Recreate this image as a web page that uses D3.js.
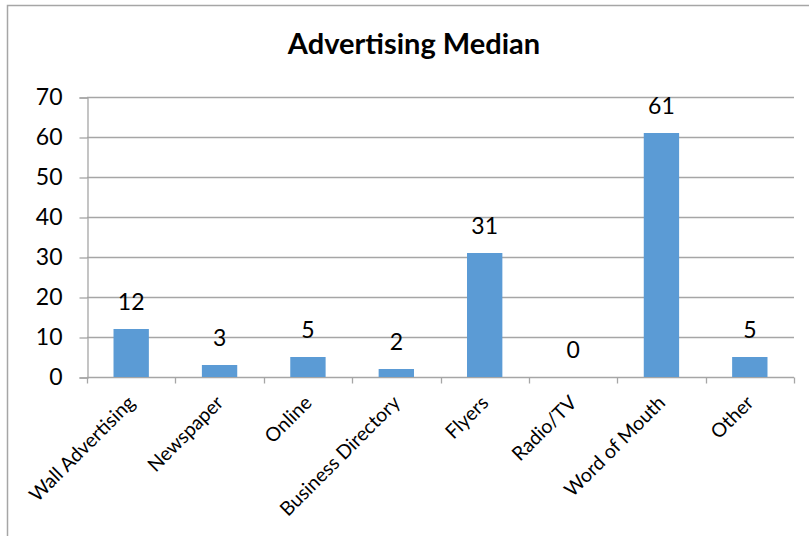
<!DOCTYPE html>
<html>
<head>
<meta charset="utf-8">
<script src="https://cdn.jsdelivr.net/npm/d3@7"></script>
<style>
  body { margin: 0; background: #fff; }
  text { font-family: Lato, "Open Sans", sans-serif; fill: #000; }
</style>
</head>
<body>
<script>
var categories = ['Wall Advertising', 'Newspaper', 'Online', 'Business Directory', 'Flyers', 'Radio/TV', 'Word of Mouth', 'Other'];
var medians = [12, 3, 5, 2, 31, 0, 61, 5];
var yTicks = [0, 10, 20, 30, 40, 50, 60, 70];

var width = 809, height = 536;
var margin = { left: 87, right: 15, top: 97, bottom: 159 };

var svg = d3.select('body').append('svg').attr('width', width).attr('height', height);

// chart frame (runs off the right and bottom edges)
svg.append('rect')
    .attr('x', 7.5).attr('y', 5.5)
    .attr('width', 820).attr('height', 560)
    .attr('fill', 'none').attr('stroke', '#a6a6a6').attr('stroke-width', 1.5);

var x = d3.scaleBand().domain(categories).range([margin.left, width - margin.right]).paddingInner(0.6).paddingOuter(0.3);
var xOuter = d3.scaleBand().domain(categories).range([margin.left, width - margin.right]);
var y = d3.scaleLinear().domain([0, 70]).range([height - margin.bottom, margin.top]);

svg.append('text')
    .attr('x', 414).attr('y', 54)
    .attr('text-anchor', 'middle')
    .style('font-size', '29px').style('font-weight', 'bold')
    .text('Advertising Median');

// gridlines
svg.append('g').selectAll('line').data(yTicks.slice(1)).enter().append('line')
    .attr('x1', margin.left).attr('x2', width - margin.right)
    .attr('y1', function(d) { return Math.round(y(d)) + 0.5; })
    .attr('y2', function(d) { return Math.round(y(d)) + 0.5; })
    .attr('stroke', '#a6a6a6').attr('stroke-width', 1.3);

// y axis
var yAxis = d3.axisLeft(y).tickValues(yTicks).tickSize(8).tickPadding(17);
var gy = svg.append('g').attr('transform', 'translate(' + (margin.left + 0.5) + ',0.5)').call(yAxis);
gy.selectAll('line, path').attr('stroke', '#a6a6a6').attr('stroke-width', 1.3);
gy.selectAll('text').style('font-size', '23px').style('font-family', 'Lato, sans-serif').attr('fill', '#000');

// x axis with ticks at band boundaries
var y0 = Math.round(y(0)) + 0.5;
svg.append('line').attr('x1', margin.left).attr('x2', width - margin.right)
    .attr('y1', y0).attr('y2', y0).attr('stroke', '#a6a6a6').attr('stroke-width', 1.3);
var bounds = categories.map(function(c) { return xOuter(c); }).concat([width - margin.right]);
svg.append('g').selectAll('line').data(bounds).enter().append('line')
    .attr('x1', function(d) { return Math.round(d) + 0.5; })
    .attr('x2', function(d) { return Math.round(d) + 0.5; })
    .attr('y1', y0).attr('y2', y0 + 6)
    .attr('stroke', '#a6a6a6').attr('stroke-width', 1.3);

// bars
svg.append('g').selectAll('rect').data(medians).enter().append('rect')
    .attr('x', function(d, i) { return x(categories[i]); })
    .attr('width', x.bandwidth())
    .attr('y', function(d) { return y(d); })
    .attr('height', function(d) { return y(0) - y(d); })
    .attr('fill', '#5b9bd5');

// data labels
svg.append('g').selectAll('text').data(medians).enter().append('text')
    .attr('x', function(d, i) { return x(categories[i]) + x.bandwidth() / 2; })
    .attr('y', function(d) { return y(d) - 19; })
    .attr('text-anchor', 'middle')
    .style('font-size', '23px')
    .text(function(d) { return d; });

// category labels, rotated
svg.append('g').selectAll('text').data(categories).enter().append('text')
    .attr('transform', function(d) {
        var cx = xOuter(d) + xOuter.bandwidth() / 2;
        return 'translate(' + (cx + 5) + ',' + 404 + ') rotate(-45)';
    })
    .attr('text-anchor', 'end')
    .style('font-size', '19.5px')
    .text(function(d) { return d; });
</script>
</body>
</html>
